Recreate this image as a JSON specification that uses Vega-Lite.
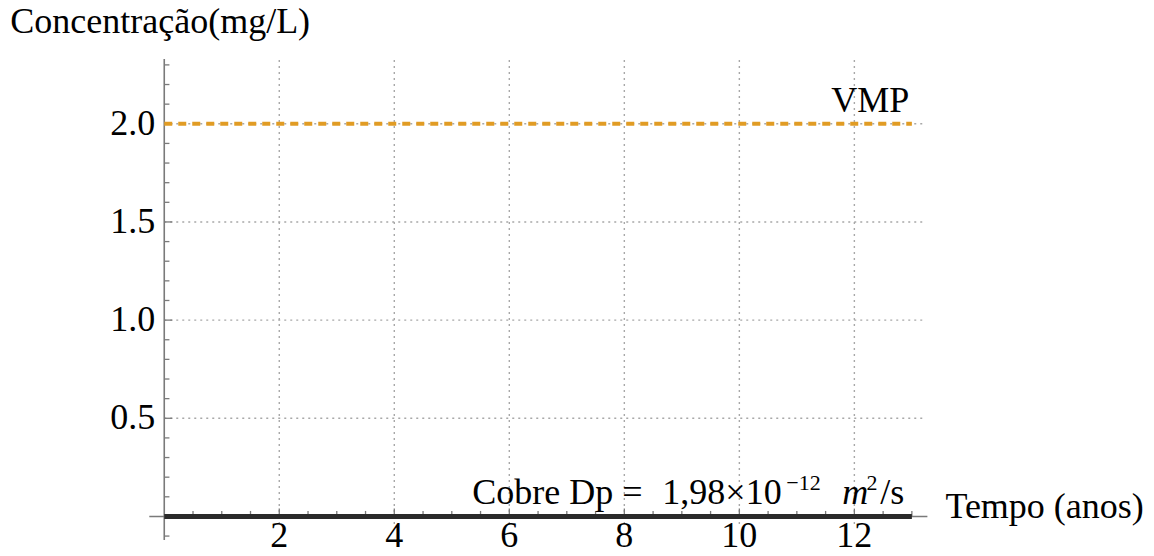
{
  "$schema": "https://vega.github.io/schema/vega-lite/v6.json",
  "autosize": {"type": "none"},
  "padding": {"left": 147, "top": 59, "right": 222, "bottom": 16},
  "width": 785,
  "height": 481,
  "background": "white",
  "config": {
    "view": {"stroke": null},
    "font": "Liberation Serif",
    "text": {"font": "Liberation Serif", "color": "#000000"}
  },
  "datasets": {
    "series": [
      {"serie": "Cobre", "t": 0, "c": 0},
      {"serie": "Cobre", "t": 1, "c": 0},
      {"serie": "Cobre", "t": 2, "c": 0},
      {"serie": "Cobre", "t": 3, "c": 0},
      {"serie": "Cobre", "t": 4, "c": 0},
      {"serie": "Cobre", "t": 5, "c": 0},
      {"serie": "Cobre", "t": 6, "c": 0},
      {"serie": "Cobre", "t": 7, "c": 0},
      {"serie": "Cobre", "t": 8, "c": 0},
      {"serie": "Cobre", "t": 9, "c": 0},
      {"serie": "Cobre", "t": 10, "c": 0},
      {"serie": "Cobre", "t": 11, "c": 0},
      {"serie": "Cobre", "t": 12, "c": 0},
      {"serie": "Cobre", "t": 13, "c": 0},
      {"serie": "VMP", "t": 0, "c": 2.0},
      {"serie": "VMP", "t": 13, "c": 2.0}
    ],
    "gridx": [{"v": 2}, {"v": 4}, {"v": 6}, {"v": 8}, {"v": 10}, {"v": 12}],
    "gridy": [{"v": 0.5}, {"v": 1.0}, {"v": 1.5}, {"v": 2.0}],
    "xticks": [
      {"v": 0.5, "kind": "minor"}, {"v": 1, "kind": "minor"}, {"v": 1.5, "kind": "minor"}, {"v": 2, "kind": "major"},
      {"v": 2.5, "kind": "minor"}, {"v": 3, "kind": "minor"}, {"v": 3.5, "kind": "minor"}, {"v": 4, "kind": "major"},
      {"v": 4.5, "kind": "minor"}, {"v": 5, "kind": "minor"}, {"v": 5.5, "kind": "minor"}, {"v": 6, "kind": "major"},
      {"v": 6.5, "kind": "minor"}, {"v": 7, "kind": "minor"}, {"v": 7.5, "kind": "minor"}, {"v": 8, "kind": "major"},
      {"v": 8.5, "kind": "minor"}, {"v": 9, "kind": "minor"}, {"v": 9.5, "kind": "minor"}, {"v": 10, "kind": "major"},
      {"v": 10.5, "kind": "minor"}, {"v": 11, "kind": "minor"}, {"v": 11.5, "kind": "minor"}, {"v": 12, "kind": "major"},
      {"v": 12.5, "kind": "minor"}, {"v": 13, "kind": "minor"}
    ],
    "yticks": [
      {"v": -0.1, "kind": "minor"},
      {"v": 0.1, "kind": "minor"}, {"v": 0.2, "kind": "minor"}, {"v": 0.3, "kind": "minor"}, {"v": 0.4, "kind": "minor"}, {"v": 0.5, "kind": "major"},
      {"v": 0.6, "kind": "minor"}, {"v": 0.7, "kind": "minor"}, {"v": 0.8, "kind": "minor"}, {"v": 0.9, "kind": "minor"}, {"v": 1.0, "kind": "major"},
      {"v": 1.1, "kind": "minor"}, {"v": 1.2, "kind": "minor"}, {"v": 1.3, "kind": "minor"}, {"v": 1.4, "kind": "minor"}, {"v": 1.5, "kind": "major"},
      {"v": 1.6, "kind": "minor"}, {"v": 1.7, "kind": "minor"}, {"v": 1.8, "kind": "minor"}, {"v": 1.9, "kind": "minor"}, {"v": 2.0, "kind": "major"},
      {"v": 2.1, "kind": "minor"}, {"v": 2.2, "kind": "minor"}, {"v": 2.3, "kind": "minor"}
    ],
    "one": [{"k": 1}]
  },
  "layer": [
    {
      "data": {"name": "gridx"},
      "mark": {"type": "rule", "color": "#a8a8a8", "strokeWidth": 1.4, "strokeDash": [2, 4]},
      "encoding": {
        "x": {"field": "v", "type": "quantitative", "axis": null,
              "scale": {"domain": [-0.3, 13.35], "nice": false, "zero": false}},
        "y": {"datum": 2.325, "type": "quantitative", "axis": null,
              "scale": {"domain": [-0.12, 2.33], "nice": false, "zero": false}},
        "y2": {"datum": -0.045}
      }
    },
    {
      "data": {"name": "gridy"},
      "mark": {"type": "rule", "color": "#a8a8a8", "strokeWidth": 1.4, "strokeDash": [2, 4]},
      "encoding": {
        "y": {"field": "v", "type": "quantitative", "axis": null},
        "x": {"datum": 0, "type": "quantitative", "axis": null},
        "x2": {"datum": 13.2}
      }
    },
    {
      "data": {"name": "one"},
      "mark": {"type": "rule", "color": "#7a7a7a", "strokeWidth": 1.6},
      "encoding": {
        "y": {"datum": 0, "type": "quantitative", "axis": null},
        "x": {"datum": -0.26, "type": "quantitative", "axis": null},
        "x2": {"datum": 13.27}
      }
    },
    {
      "data": {"name": "one"},
      "mark": {"type": "rule", "color": "#7a7a7a", "strokeWidth": 1.6},
      "encoding": {
        "x": {"datum": 0, "type": "quantitative", "axis": null},
        "y": {"datum": -0.12, "type": "quantitative", "axis": null},
        "y2": {"datum": 2.33}
      }
    },
    {
      "data": {"name": "xticks"},
      "transform": [{"filter": "datum.kind === 'minor'"}],
      "mark": {"type": "rule", "color": "#7a7a7a", "strokeWidth": 1.3},
      "encoding": {
        "x": {"field": "v", "type": "quantitative", "axis": null},
        "y": {"datum": 0, "type": "quantitative", "axis": null},
        "y2": {"datum": 0.028}
      }
    },
    {
      "data": {"name": "xticks"},
      "transform": [{"filter": "datum.kind === 'major'"}],
      "mark": {"type": "rule", "color": "#7a7a7a", "strokeWidth": 1.3},
      "encoding": {
        "x": {"field": "v", "type": "quantitative", "axis": null},
        "y": {"datum": 0, "type": "quantitative", "axis": null},
        "y2": {"datum": 0.04}
      }
    },
    {
      "data": {"name": "yticks"},
      "transform": [{"filter": "datum.kind === 'minor'"}],
      "mark": {"type": "rule", "color": "#7a7a7a", "strokeWidth": 1.3},
      "encoding": {
        "y": {"field": "v", "type": "quantitative", "axis": null},
        "x": {"datum": 0, "type": "quantitative", "axis": null},
        "x2": {"datum": 0.09}
      }
    },
    {
      "data": {"name": "yticks"},
      "transform": [{"filter": "datum.kind === 'major'"}],
      "mark": {"type": "rule", "color": "#7a7a7a", "strokeWidth": 1.3},
      "encoding": {
        "y": {"field": "v", "type": "quantitative", "axis": null},
        "x": {"datum": 0, "type": "quantitative", "axis": null},
        "x2": {"datum": 0.14}
      }
    },
    {
      "data": {"name": "gridx"},
      "mark": {"type": "text", "fontSize": 36, "align": "center", "baseline": "alphabetic"},
      "encoding": {
        "x": {"field": "v", "type": "quantitative", "axis": null},
        "y": {"datum": -0.1578, "type": "quantitative", "axis": null},
        "text": {"field": "v", "type": "quantitative", "format": "d"}
      }
    },
    {
      "data": {"name": "gridy"},
      "mark": {"type": "text", "fontSize": 36, "align": "right", "baseline": "middle"},
      "encoding": {
        "y": {"field": "v", "type": "quantitative", "axis": null},
        "x": {"datum": -0.157, "type": "quantitative", "axis": null},
        "text": {"field": "v", "type": "quantitative", "format": ".1f"}
      }
    },
    {
      "data": {"values": [{"label": "Concentração(mg/L)"}]},
      "mark": {"type": "text", "fontSize": 36, "align": "left", "baseline": "alphabetic"},
      "encoding": {
        "x": {"datum": -2.678, "type": "quantitative", "axis": null},
        "y": {"datum": 2.4606, "type": "quantitative", "axis": null},
        "text": {"field": "label"}
      }
    },
    {
      "data": {"values": [{"label": "Tempo (anos)"}]},
      "mark": {"type": "text", "fontSize": 36, "align": "left", "baseline": "alphabetic"},
      "encoding": {
        "x": {"datum": 13.583, "type": "quantitative", "axis": null},
        "y": {"datum": -0.0076, "type": "quantitative", "axis": null},
        "text": {"field": "label"}
      }
    },
    {
      "data": {"name": "series"},
      "transform": [{"filter": "datum.serie === 'VMP'"}],
      "mark": {"type": "line", "color": "#E19C24", "strokeWidth": 4, "strokeDash": [8, 6]},
      "encoding": {
        "x": {"field": "t", "type": "quantitative", "axis": null},
        "y": {"field": "c", "type": "quantitative", "axis": null}
      }
    },
    {
      "data": {"name": "series"},
      "transform": [{"filter": "datum.serie === 'Cobre'"}],
      "mark": {"type": "line", "color": "#2a2a2a", "strokeWidth": 5},
      "encoding": {
        "x": {"field": "t", "type": "quantitative", "axis": null},
        "y": {"field": "c", "type": "quantitative", "axis": null}
      }
    },
    {
      "data": {"values": [{"label": "VMP"}]},
      "mark": {"type": "text", "fontSize": 36, "align": "center", "baseline": "alphabetic"},
      "encoding": {
        "x": {"datum": 12.278, "type": "quantitative", "axis": null},
        "y": {"datum": 2.0585, "type": "quantitative", "axis": null},
        "text": {"field": "label"}
      }
    },
    {
      "data": {"values": [{"label": "Cobre Dp ="}]},
      "mark": {"type": "text", "fontSize": 36, "align": "left", "baseline": "alphabetic"},
      "encoding": {
        "x": {"datum": 5.357, "type": "quantitative", "axis": null},
        "y": {"datum": 0.0636, "type": "quantitative", "axis": null},
        "text": {"field": "label"}
      }
    },
    {
      "data": {"values": [{"label": "1,98×10"}]},
      "mark": {"type": "text", "fontSize": 36, "align": "left", "baseline": "alphabetic"},
      "encoding": {
        "x": {"datum": 8.661, "type": "quantitative", "axis": null},
        "y": {"datum": 0.0636, "type": "quantitative", "axis": null},
        "text": {"field": "label"}
      }
    },
    {
      "data": {"values": [{"label": "−12"}]},
      "mark": {"type": "text", "fontSize": 22, "align": "left", "baseline": "alphabetic"},
      "encoding": {
        "x": {"datum": 10.817, "type": "quantitative", "axis": null},
        "y": {"datum": 0.135, "type": "quantitative", "axis": null},
        "text": {"field": "label"}
      }
    },
    {
      "data": {"values": [{"label": "m"}]},
      "mark": {"type": "text", "fontSize": 36, "fontStyle": "italic", "align": "left", "baseline": "alphabetic"},
      "encoding": {
        "x": {"datum": 11.791, "type": "quantitative", "axis": null},
        "y": {"datum": 0.0636, "type": "quantitative", "axis": null},
        "text": {"field": "label"}
      }
    },
    {
      "data": {"values": [{"label": "2"}]},
      "mark": {"type": "text", "fontSize": 22, "align": "left", "baseline": "alphabetic"},
      "encoding": {
        "x": {"datum": 12.209, "type": "quantitative", "axis": null},
        "y": {"datum": 0.135, "type": "quantitative", "axis": null},
        "text": {"field": "label"}
      }
    },
    {
      "data": {"values": [{"label": "/s"}]},
      "mark": {"type": "text", "fontSize": 36, "align": "left", "baseline": "alphabetic"},
      "encoding": {
        "x": {"datum": 12.452, "type": "quantitative", "axis": null},
        "y": {"datum": 0.0636, "type": "quantitative", "axis": null},
        "text": {"field": "label"}
      }
    }
  ]
}
